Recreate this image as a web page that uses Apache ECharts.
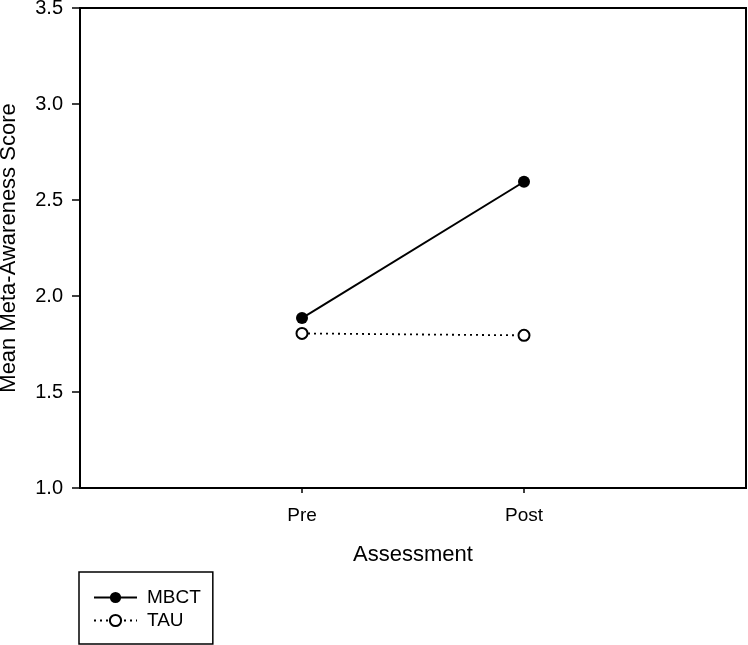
<!DOCTYPE html>
<html><head><meta charset="utf-8">
<script src="https://cdn.jsdelivr.net/npm/echarts@6/dist/echarts.min.js"></script>
<style>html,body{margin:0;padding:0;background:#fff}#c{width:748px;height:645px}</style>
</head><body><div id="c"></div>
<script>
const categories = ['', 'Pre', 'Post', ''];
const mbct = [null, 1.885, 2.595, null];
const tau = [null, 1.805, 1.795, null];
const yTicks = [1.0, 1.5, 2.0, 2.5, 3.0, 3.5];

const chart = echarts.init(document.getElementById('c'), null, {renderer: 'canvas'});
const font = '"Liberation Sans", Arial, sans-serif';
chart.setOption({
  animation: false,
  grid: {left: 80, right: 2, top: 8, bottom: 157, show: true, borderColor: '#000', borderWidth: 2,
    containLabel: false, outerBoundsMode: 'none'},
  xAxis: {
    type: 'category', data: categories, boundaryGap: false,
    name: 'Assessment', nameLocation: 'middle', nameGap: 56,
    nameTextStyle: {fontFamily: font, fontSize: 22, color: '#000'},
    axisLine: {lineStyle: {color: '#000', width: 2}},
    axisTick: {show: true, length: 5, lineStyle: {color: '#000', width: 1.5},
      interval: function (i) { return i === 1 || i === 2; }},
    axisLabel: {fontFamily: font, fontSize: 19, color: '#000', margin: 18, interval: 0}
  },
  yAxis: {
    type: 'value', min: yTicks[0], max: yTicks[yTicks.length - 1], interval: 0.5,
    name: 'Mean Meta-Awareness Score', nameLocation: 'middle', nameGap: 60,
    nameTextStyle: {fontFamily: font, fontSize: 22, color: '#000'},
    splitLine: {show: false},
    axisLine: {show: true, lineStyle: {color: '#000', width: 2}},
    axisTick: {show: true, length: 8, lineStyle: {color: '#000', width: 1.5}},
    axisLabel: {fontFamily: font, fontSize: 20, color: '#000', margin: 17,
      formatter: function (v) { return v.toFixed(1); }}
  },
  legend: {
    orient: 'vertical', left: 79, top: 572,
    padding: [16, 12, 14, 14], itemGap: 4, itemWidth: 43, itemHeight: 14,
    borderColor: '#000', borderWidth: 1.5, backgroundColor: '#fff',
    textStyle: {fontFamily: font, fontSize: 19, lineHeight: 19, color: '#000', padding: [0, 0, 0, 5]},
    data: ['MBCT', 'TAU']
  },
  series: [
    {name: 'MBCT', type: 'line', data: mbct, symbol: 'circle', symbolSize: 12,
      itemStyle: {color: '#000'}, lineStyle: {color: '#000', width: 2}},
    {name: 'TAU', type: 'line', data: tau, symbol: 'circle', symbolSize: 11,
      itemStyle: {color: '#fff', borderColor: '#000', borderWidth: 2},
      lineStyle: {color: '#000', width: 1.8, type: [2, 4]}}
  ]
});
</script></body></html>
